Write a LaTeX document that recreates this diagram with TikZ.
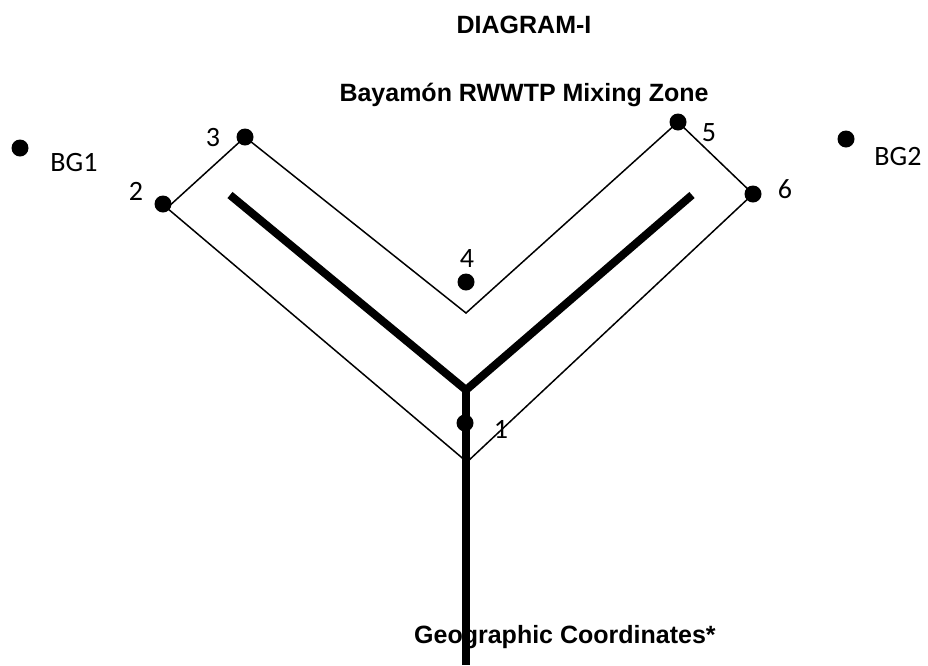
\documentclass[tikz,border=0pt]{standalone}
\usepackage{fontspec}
\setmainfont{Carlito}
\newfontfamily\arialfont{Liberation Sans}
\usetikzlibrary{calc}
\tikzset{
  pt/.style={circle,fill=black,inner sep=0pt,minimum size=17pt},
  lbl/.style={inner sep=0pt,font=\fontsize{28}{32}\selectfont},
  ttl/.style={inner sep=0pt,anchor=base,font=\arialfont\bfseries\fontsize{25}{30}\selectfont},
  zone/.style={line width=1.5pt,line join=miter},
  pipe/.style={line width=8pt,line cap=butt,line join=miter}
}
\begin{document}
\begin{tikzpicture}[x=1pt,y=-1pt]
	\useasboundingbox (0,0) rectangle (928,665);
	
	\node[ttl] (title) at (524,33) {DIAGRAM-I};
	\node[ttl] (zonename) at (524,101) {Bayamón RWWTP Mixing Zone};
	
	% mixing zone outline
	\coordinate (a) at (167,208);
	\coordinate (b) at (245,137);
	\coordinate (c) at (466,313);
	\coordinate (d) at (678,122);
	\coordinate (e) at (753,194);
	\coordinate (f) at (467,462);
	\draw[zone] (a) -- (b) -- (c) -- (d) -- (e) -- (f) -- cycle;
	
	% outfall
	\coordinate (armL) at (230,195);
	\coordinate (armR) at (692,195);
	\coordinate (jn) at (466,390);
	\coordinate (bot) at (466,665);
	\draw[pipe] (armL) -- (jn) -- (armR);
	\draw[pipe] (jn) -- (bot);
	
	% stations
	\node[pt] (bg1) at (20,148) {};
	\node[lbl] (bg1l) at (74,163) {BG1};
	\node[pt] (p2) at (163,204) {};
	\node[lbl] (p2l) at (136,191) {2};
	\node[pt] (p3) at (245,137) {};
	\node[lbl] (p3l) at (213,138) {3};
	\node[pt] (p4) at (466,282) {};
	\node[lbl] (p4l) at (467,259) {4};
	\node[pt] (p5) at (678,122) {};
	\node[lbl] (p5l) at (709,133) {5};
	\node[pt] (p6) at (753,194) {};
	\node[lbl] (p6l) at (785,189) {6};
	\node[pt] (bg2) at (846,139) {};
	\node[lbl] (bg2l) at (898,157) {BG2};
	\node[pt] (p1) at (465,423) {};
	\node[lbl] (p1l) at (501,429) {1};
	
	\node[ttl,anchor=base west] (geo) at (414,643) {Geographic Coordinates*};
\end{tikzpicture}
\end{document}
